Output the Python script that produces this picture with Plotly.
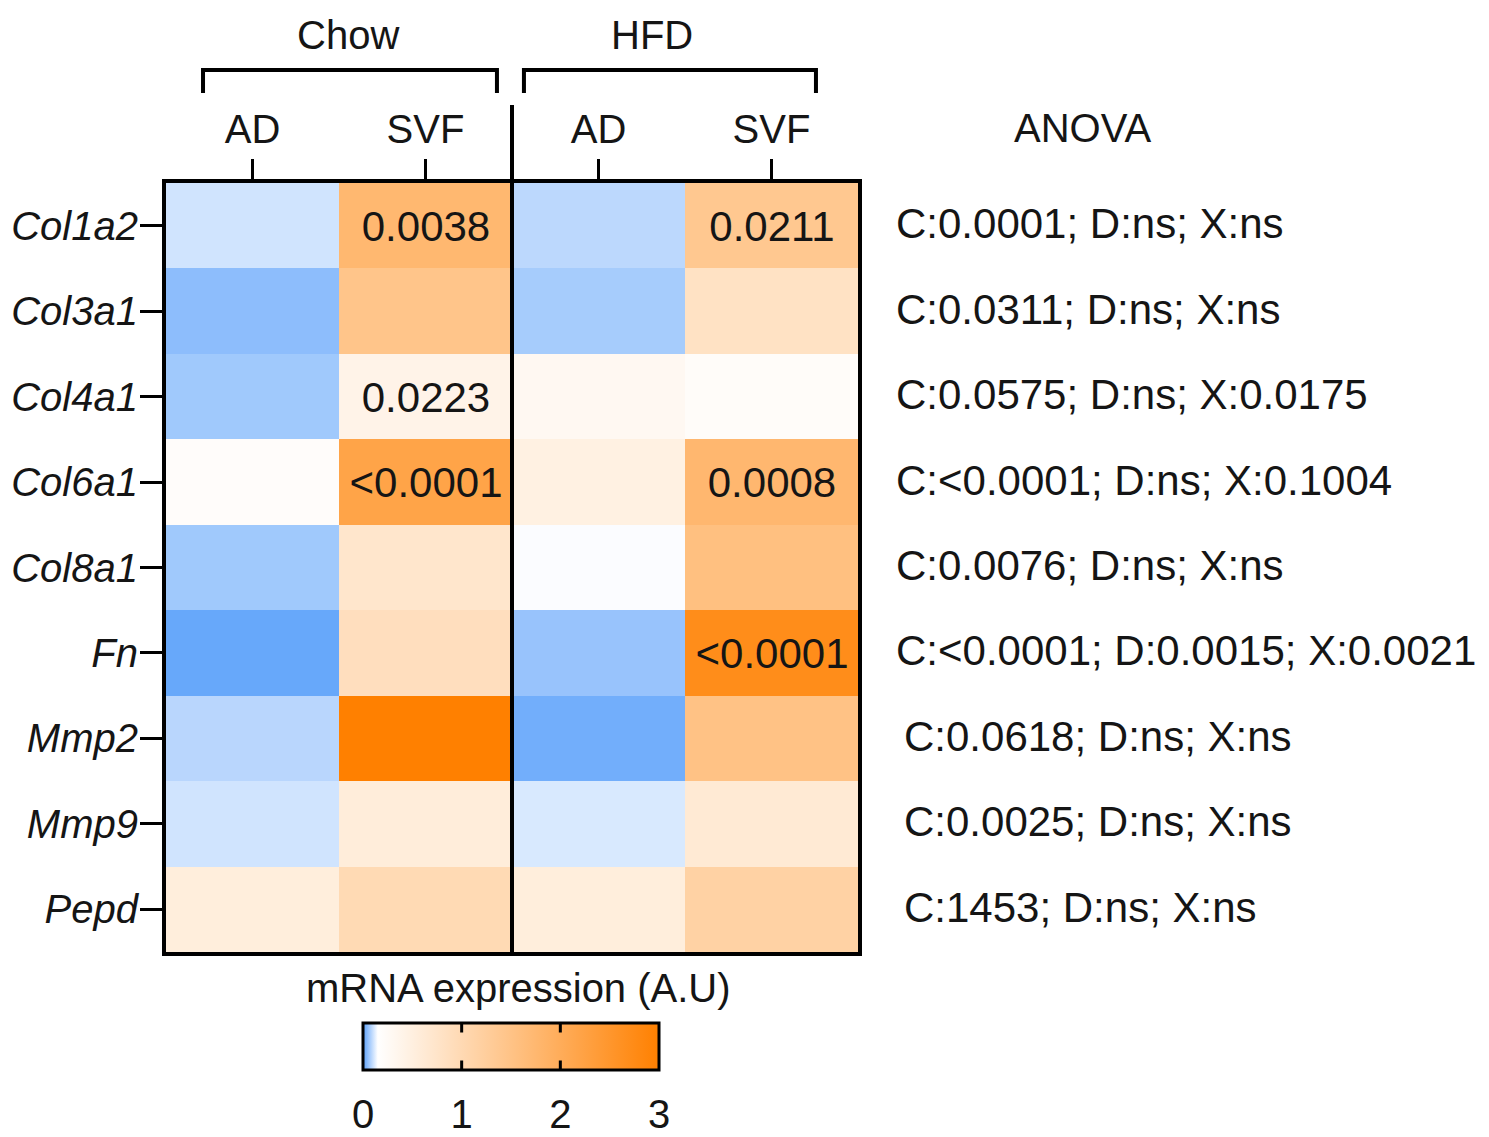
import plotly.graph_objects as go

# ---------------- data ----------------
genes = ["Col1a2", "Col3a1", "Col4a1", "Col6a1", "Col8a1", "Fn", "Mmp2", "Mmp9", "Pepd"]
columns = ["AD", "SVF", "AD", "SVF"]
groups = ["Chow", "HFD"]

chow_ad = [0.107, 0.046, 0.064, 0.21, 0.064, 0.012, 0.086, 0.107, 0.54]
chow_svf = [1.75, 1.46, 0.41, 2.20, 0.72, 0.88, 3.00, 0.56, 0.99]
hfd_ad = [0.089, 0.069, 0.30, 0.47, 0.146, 0.056, 0.022, 0.115, 0.54]
hfd_svf = [1.39, 0.81, 0.22, 1.76, 1.57, 2.71, 1.51, 0.63, 1.17]

p_chow_ad = ["", "", "", "", "", "", "", "", ""]
p_chow_svf = ["0.0038", "", "0.0223", "<0.0001", "", "", "", "", ""]
p_hfd_ad = ["", "", "", "", "", "", "", "", ""]
p_hfd_svf = ["0.0211", "", "", "0.0008", "", "<0.0001", "", "", ""]

anova = [
    "C:0.0001; D:ns; X:ns",
    "C:0.0311; D:ns; X:ns",
    "C:0.0575; D:ns; X:0.0175",
    "C:<0.0001; D:ns; X:0.1004",
    "C:0.0076; D:ns; X:ns",
    "C:<0.0001; D:0.0015; X:0.0021",
    "C:0.0618; D:ns; X:ns",
    "C:0.0025; D:ns; X:ns",
    "C:1453; D:ns; X:ns",
]

cbar_ticks = [0, 1, 2, 3]
zmin, zmax = 0, 3

# ---------------- build ----------------
z = [[a, b, c, d] for a, b, c, d in zip(chow_ad, chow_svf, hfd_ad, hfd_svf)]
txt = [[s.replace("<", "&lt;") for s in row]
       for row in zip(p_chow_ad, p_chow_svf, p_hfd_ad, p_hfd_svf)]

FONT = "Liberation Sans, Arial, Helvetica, sans-serif"
FS = 40
FS_CELL = 42
FS_ANOVA = 42
TXT = "#151515"

OFF = 8  # page body margin
W, H = 1489 - OFF, 1137 - OFF


def X(px):
    return px - OFF


def Y(py):
    return py - OFF


ML, MT = X(166), Y(183)
MR, MB = W - X(858), H - Y(952)
PW, PH = W - ML - MR, H - MT - MB


def xp(px):
    return (X(px) - ML) / PW


def yp(py):
    return 1 - (Y(py) - MT) / PH


CB_LEN = 296
CB_X = xp(511)
CB_TOP_PX = 1023
CB_THICK = 47
CB_Y = yp(CB_TOP_PX)

colorscale = [
    [0.0, "#5aa0fa"],
    [0.05, "#ffffff"],
    [1.0, "#ff8000"],
]

fig = go.Figure()
fig.add_trace(go.Heatmap(
    z=z,
    x=list(range(len(columns))),
    y=list(range(len(genes))),
    text=txt,
    texttemplate="%{text}",
    textfont=dict(family=FONT, size=FS_CELL, color=TXT),
    colorscale=colorscale,
    zmin=zmin, zmax=zmax,
    hoverinfo="skip",
    colorbar=dict(
        orientation="h",
        x=CB_X, xanchor="center",
        y=CB_Y, yanchor="top",
        lenmode="pixels", len=CB_LEN,
        thickness=CB_THICK,
        outlinewidth=3, outlinecolor="black",
        tickvals=cbar_ticks,
        ticks="outside", ticklen=9, tickwidth=1, tickcolor="rgba(0,0,0,0)",
        tickfont=dict(family=FONT, size=FS, color=TXT),
        xpad=0, ypad=0,
    ),
))

fig.update_xaxes(
    side="top",
    range=[-0.5, len(columns) - 0.5],
    tickvals=list(range(len(columns))),
    ticktext=columns,
    ticks="outside", ticklen=20, tickwidth=3, tickcolor="black",
    tickfont=dict(family=FONT, size=FS, color=TXT),
    showline=True, linewidth=4, linecolor="black", mirror=True,
    showgrid=False, zeroline=False, fixedrange=True,
)
fig.update_yaxes(
    range=[len(genes) - 0.5, -0.5],
    tickvals=list(range(len(genes))),
    ticktext=[f"<i>{g}</i>" for g in genes],
    ticks="outside", ticklen=22, tickwidth=3, tickcolor="black",
    ticklabelstandoff=-6,
    tickfont=dict(family=FONT, size=FS, color=TXT),
    showline=True, linewidth=4, linecolor="black", mirror=True,
    showgrid=False, zeroline=False, fixedrange=True,
)

shapes = []
annotations = []

# divider between Chow and HFD
shapes.append(dict(type="line", xref="x", yref="paper", x0=1.5, x1=1.5,
                   y0=0, y1=yp(105), line=dict(color="black", width=4)))

# group brackets
brackets = [(-0.286, 1.413), (1.569, 3.257)]
label_x = [0.552, 2.31]
for (a, b), g, lx in zip(brackets, groups, label_x):
    shapes.append(dict(type="path", xref="x", yref="paper",
                       path=f"M {a},{yp(93)} L {a},{yp(70)} L {b},{yp(70)} L {b},{yp(93)}",
                       line=dict(color="black", width=4)))
    annotations.append(dict(text=g, xref="x", yref="paper", x=lx, y=yp(35),
                            showarrow=False, xanchor="center", yanchor="middle",
                            font=dict(family=FONT, size=FS, color=TXT)))

# ANOVA header and row texts
annotations.append(dict(text="ANOVA", xref="paper", yref="paper",
                        x=xp(1082), y=yp(128), showarrow=False,
                        xanchor="center", yanchor="middle",
                        font=dict(family=FONT, size=FS, color=TXT)))
indent = [0, 0, 0, 0, 0, 0, 8, 8, 8]
for i, (s, dx) in enumerate(zip(anova, indent)):
    annotations.append(dict(text=s.replace("<", "&lt;"), xref="paper", yref="y",
                            x=xp(894), y=i, xshift=dx, yshift=2, showarrow=False,
                            xanchor="left", yanchor="middle",
                            font=dict(family=FONT, size=FS_ANOVA, color=TXT)))

# colorbar title
annotations.append(dict(text="mRNA expression (A.U)", xref="paper", yref="paper",
                        x=xp(518), y=yp(988), showarrow=False,
                        xanchor="center", yanchor="middle",
                        font=dict(family=FONT, size=FS, color=TXT)))

# inner ticks of colorbar (top and bottom edges), drawn as arrow-less line annotations
cb_top = CB_Y
cb_bot = yp(CB_TOP_PX + CB_THICK)
for v in cbar_ticks[1:-1]:
    x = CB_X + ((v - zmin) / (zmax - zmin) - 0.5) * CB_LEN / PW
    for yy, ay in ((cb_top, 11), (cb_bot, -11)):
        annotations.append(dict(text="", xref="paper", yref="paper", x=x, y=yy,
                                showarrow=True, arrowhead=0, arrowwidth=3,
                                arrowcolor="black", ax=0, ay=ay,
                                standoff=0, startstandoff=0))

fig.update_layout(
    width=W, height=H,
    margin=dict(l=ML, r=MR, t=MT, b=MB, pad=0, autoexpand=False),
    paper_bgcolor="white", plot_bgcolor="white",
    shapes=shapes, annotations=annotations,
    font=dict(family=FONT, size=FS, color=TXT),
)

fig.write_html("out.html")
